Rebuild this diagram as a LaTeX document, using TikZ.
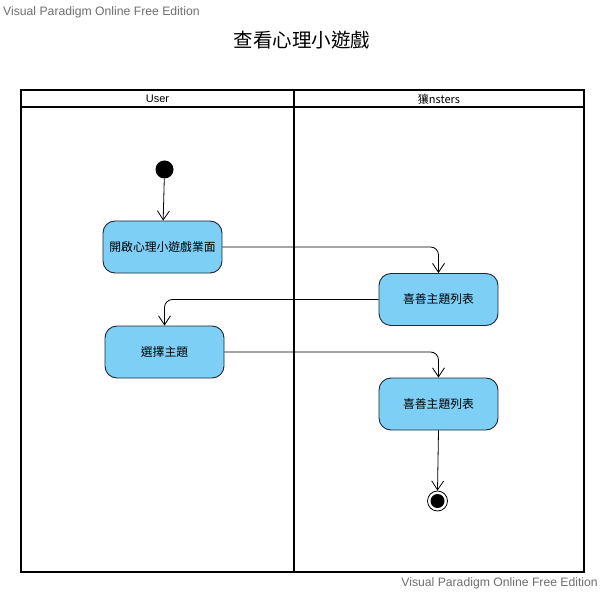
\documentclass[tikz,border=0pt]{standalone}
\usepackage{fontspec}
\setmainfont{Liberation Sans}
\newfontfamily\cjk{Noto Sans CJK TC}
\usetikzlibrary{arrows.meta}
\definecolor{actfill}{RGB}{125,207,245}
\definecolor{actdraw}{RGB}{30,40,50}
\definecolor{wmgray}{RGB}{110,110,110}
\tikzset{
  act/.style={draw=actdraw, fill=actfill, line width=0.9pt, rounded corners=12pt,
    minimum width=119pt, minimum height=52pt, inner sep=0pt, font=\cjk\fontsize{11.8}{13}\selectfont},
  flow/.style={draw=black, line width=0.8pt, rounded corners=8pt, -{Straight Barb[length=9pt,width=12pt,line width=0.8pt]}},
  lane/.style={draw=black, line width=1.8pt},
  wm/.style={text=wmgray, font=\fontsize{12.2}{14}\selectfont, inner sep=0pt},
}
\begin{document}
\begin{tikzpicture}[x=1pt,y=-1pt]
\useasboundingbox (0,0) rectangle (604,593);
\fill[white] (0,0) rectangle (604,593);
% watermarks
\node[wm, anchor=west] (wm1) at (3,12) {Visual Paradigm Online Free Edition};
\node[wm, anchor=east] (wm2) at (598,583) {Visual Paradigm Online Free Edition};
% title
\node[font=\cjk\fontsize{19.5}{22}\selectfont] (title) at (302,40) {查看心理小遊戲};
% swimlanes
\draw[lane] (21,90) rectangle (584,572);
\draw[lane] (21,107) -- (584,107);
\draw[lane] (294,90) -- (294,572);
\node[font=\fontsize{11}{13}\selectfont] (h1) at (157.5,99) {User};
\node[font=\cjk\fontsize{11}{13}\selectfont] (h2) at (439,99) {獽nsters};
% start
\node[circle, fill=black, minimum size=18pt, inner sep=0pt] (start) at (164.5,169.5) {};
% activities
\node[act] (a1) at (162.5,247) {開啟心理小遊戲業面};
\node[act] (a2) at (438.5,299.5) {喜善主題列表};
\node[act] (a3) at (164.5,352) {選擇主題};
\node[act] (a4) at (438.5,404) {喜善主題列表};
% end
\node[circle, draw=black, line width=0.8pt, fill=white, minimum size=20pt, inner sep=0pt] (end) at (437.5,501) {};
\node[circle, fill=black, minimum size=14pt, inner sep=0pt] (endin) at (end.center) {};
% flows
\draw[flow] (start) -- (a1);
\draw[flow] (a1.east) -| (a2.north);
\draw[flow] (a2.west) -| (a3.north);
\draw[flow] (a3.east) -| (a4.north);
\draw[flow] (a4.south) -- (end.north);
\end{tikzpicture}
\end{document}
